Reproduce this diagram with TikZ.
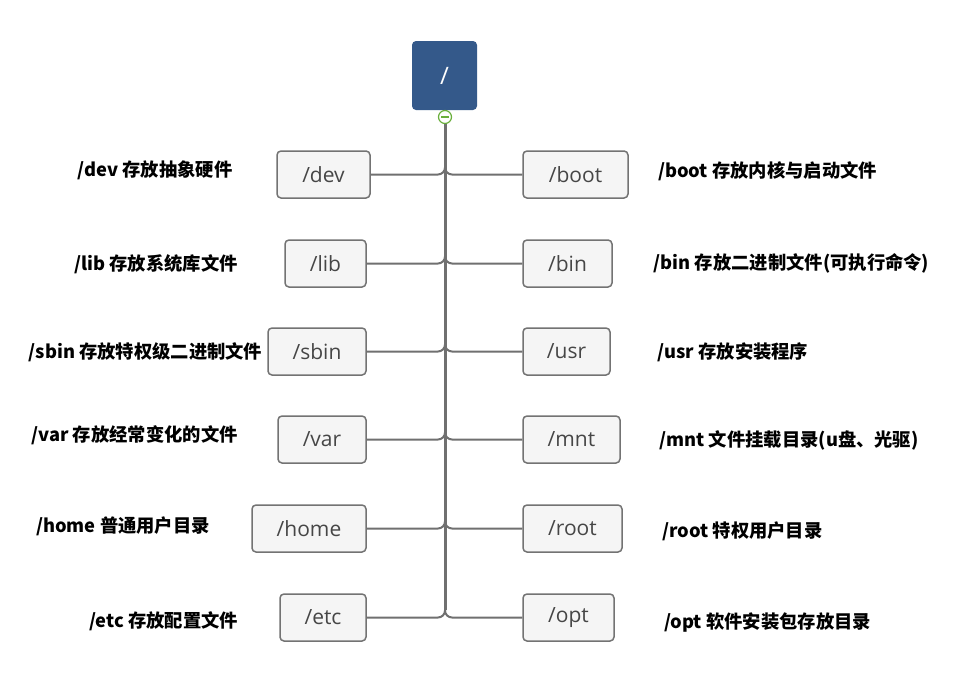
\documentclass[tikz,border=0pt]{standalone}
\usepackage{fontspec}
\newfontfamily\cjk{Noto Sans CJK SC}
\newfontfamily\boxfont{Open Sans}
\definecolor{rootblue}{RGB}{52,89,138}
\definecolor{linegray}{RGB}{112,112,112}
\definecolor{boxfill}{RGB}{245,245,245}
\definecolor{boxline}{RGB}{115,115,115}
\definecolor{boxtext}{RGB}{70,70,70}
\definecolor{colgreen}{RGB}{106,175,61}
\begin{document}
\begin{tikzpicture}[x=1pt,y=-1pt,
  dirbox/.style={draw=boxline,fill=boxfill,line width=1.5pt,rounded corners=4pt,
    minimum height=47pt,inner sep=0pt,font=\boxfont\fontsize{21}{24}\selectfont,text=boxtext},
  lab/.style={inner sep=0pt,font=\cjk\bfseries\fontsize{18.3}{22}\selectfont,text=black},
  branch/.style={draw=linegray,line width=2pt,rounded corners=7pt},
  trunk/.style={draw=linegray,line width=3pt}]
\useasboundingbox (0,0) rectangle (972,699);
\fill[white] (0,0) rectangle (972,699);
% root
\node[fill=rootblue,rounded corners=4pt,minimum width=65pt,minimum height=69pt,inner sep=0pt,
  text=white,font=\boxfont\fontsize{24}{28}\selectfont] (root) at (444.5,75.5) {/};
% boxes left
\node[dirbox,minimum width=93pt] (dev) at (323.5,174.5) {/dev};
\node[dirbox,minimum width=81pt] (lib) at (325.5,263.5) {/lib};
\node[dirbox,minimum width=98pt] (sbin) at (317,351.5) {/sbin};
\node[dirbox,minimum width=88pt] (var) at (322,439.5) {/var};
\node[dirbox,minimum width=114pt] (home) at (309,528.5) {/home};
\node[dirbox,minimum width=86pt] (etc) at (323,617.5) {/etc};
% boxes right
\node[dirbox,minimum width=105pt] (boot) at (575.5,174.5) {/boot};
\node[dirbox,minimum width=89pt] (bin) at (567.5,263.5) {/bin};
\node[dirbox,minimum width=87pt] (usr) at (566.5,351.5) {/usr};
\node[dirbox,minimum width=97pt] (mnt) at (571.5,439.5) {/mnt};
\node[dirbox,minimum width=99pt] (rootd) at (572.5,528.5) {/root};
\node[dirbox,minimum width=91pt] (opt) at (568.5,617.5) {/opt};
% trunk and branches
\coordinate (tend) at (445,610);
\draw[trunk] (445,118) -- (tend);
\foreach \b in {dev,lib,sbin,var,home,etc,boot,bin,usr,mnt,rootd,opt}{
  \draw[branch] (445,118) |- (\b);
}
% collapse circle
\node[circle,draw=colgreen,line width=1.2pt,fill=white,minimum size=13pt,inner sep=0pt] (col) at (445,117) {};
\draw[colgreen,line width=1.4pt] ([xshift=-3.8pt]col.center) -- ([xshift=3.8pt]col.center);
% labels
\node[lab] (ldev) at (155,170) {/dev 存放抽象硬件};
\node[lab] (llib) at (156,264) {/lib 存放系统库文件};
\node[lab] (lsbin) at (145.5,352) {/sbin 存放特权级二进制文件};
\node[lab] (lvar) at (134.5,435) {/var 存放经常变化的文件};
\node[lab] (lhome) at (123,526) {/home 普通用户目录};
\node[lab] (letc) at (163.5,621) {/etc 存放配置文件};
\node[lab] (lboot) at (767.5,171) {/boot 存放内核与启动文件};
\node[lab] (lbin) at (791.5,263) {/bin 存放二进制文件(可执行命令)};
\node[lab] (lusr) at (733,352) {/usr 存放安装程序};
\node[lab] (lmnt) at (789,440) {/mnt 文件挂载目录(u盘、光驱)};
\node[lab] (lroot) at (742.5,531) {/root 特权用户目录};
\node[lab] (lopt) at (767.5,623) {/opt 软件安装包存放目录};
\end{tikzpicture}
\end{document}
